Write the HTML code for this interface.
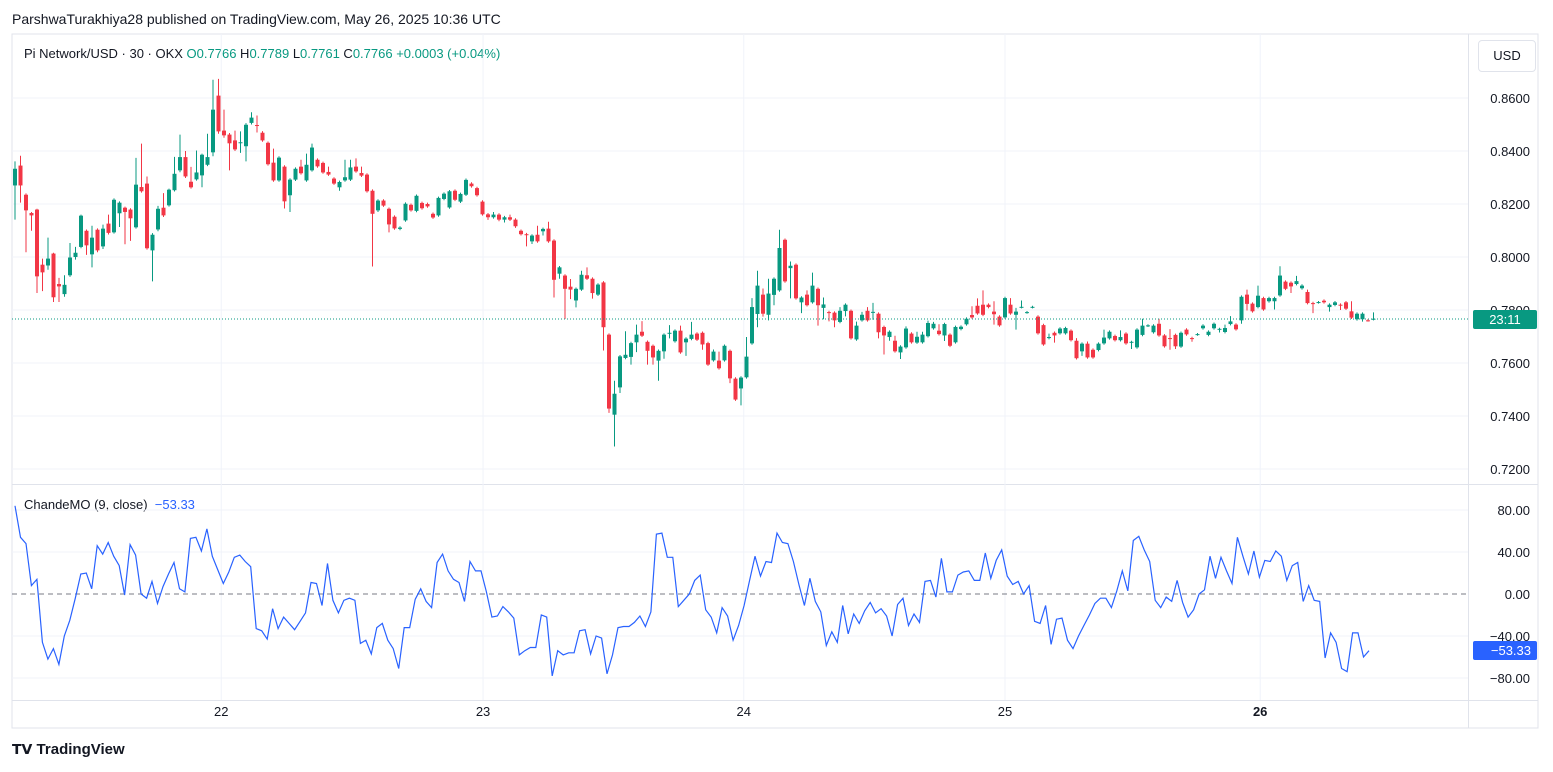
<!DOCTYPE html>
<html><head><meta charset="utf-8"><style>
body{margin:0;width:1553px;height:772px;background:#fff;font-family:"Liberation Sans",sans-serif;overflow:hidden;position:relative}
.t{position:absolute;white-space:nowrap}
</style></head><body>
<div class="t" style="left:12px;top:11px;font-size:14px;color:#131722">ParshwaTurakhiya28 published on TradingView.com, May 26, 2025 10:36 UTC</div>
<div class="t" style="left:24px;top:46px;font-size:13px;color:#131722">Pi Network/USD · 30 · OKX <span style="color:#089981">O</span><span style="color:#089981">0.7766</span> H<span style="color:#089981">0.7789</span> L<span style="color:#089981">0.7761</span> C<span style="color:#089981">0.7766</span> <span style="color:#089981">+0.0003 (+0.04%)</span></div>
<div class="t" style="left:24px;top:497px;font-size:13px;color:#131722">ChandeMO (9, close) &nbsp;<span style="color:#2962ff">−53.33</span></div>
<div class="t" style="left:1478px;top:40px;width:56px;height:30px;border:1px solid #e0e3eb;border-radius:4px;font-size:13px;line-height:30px;text-align:center;color:#131722">USD</div>
<div class="t" style="left:12px;top:741px;font-size:15px;font-weight:bold;color:#131722"><span style="font-size:14px">𝗧𝗩</span> TradingView</div>
<svg id="c" width="1553" height="772" style="position:absolute;left:0;top:0"></svg>
<script>
const candles=[
[0.8270,0.8333,0.8361,0.8141],[0.8345,0.8270,0.8382,0.8205],[0.8235,0.8176,0.8240,0.8018],[0.8166,0.8157,0.8170,0.8099],[0.8179,0.7927,0.8182,0.7864],[0.7971,0.7942,0.7994,0.7871],[0.7968,0.7994,0.8073,0.7952],[0.8013,0.7848,0.8016,0.7830],[0.7898,0.7889,0.7921,0.7830],[0.7860,0.7895,0.7931,0.7850],
[0.7931,0.7998,0.8053,0.7925],[0.8000,0.8016,0.8038,0.7990],[0.8038,0.8156,0.8160,0.8033],[0.8099,0.8044,0.8104,0.8008],[0.8010,0.8073,0.8118,0.7961],[0.8103,0.8025,0.8108,0.8018],[0.8040,0.8107,0.8122,0.8030],[0.8126,0.8091,0.8160,0.8085],[0.8093,0.8216,0.8221,0.8088],[0.8165,0.8205,0.8210,0.8113],
[0.8186,0.8170,0.8190,0.8048],[0.8179,0.8146,0.8184,0.8061],[0.8112,0.8273,0.8374,0.8107],[0.8264,0.8248,0.8428,0.8243],[0.8277,0.8033,0.8304,0.8028],[0.8025,0.8084,0.8090,0.7908],[0.8104,0.8182,0.8193,0.8097],[0.8186,0.8157,0.8241,0.8151],[0.8195,0.8254,0.8258,0.8190],[0.8252,0.8314,0.8378,0.8247],
[0.8327,0.8377,0.8462,0.8320],[0.8377,0.8304,0.8400,0.8298],[0.8284,0.8263,0.8340,0.8258],[0.8293,0.8319,0.8402,0.8288],[0.8308,0.8386,0.8390,0.8263],[0.8348,0.8377,0.8465,0.8343],[0.8395,0.8556,0.8669,0.8380],[0.8609,0.8474,0.8672,0.8465],[0.8477,0.8459,0.8556,0.8450],[0.8462,0.8429,0.8468,0.8327],
[0.8440,0.8406,0.8477,0.8400],[0.8430,0.8433,0.8474,0.8393],[0.8418,0.8499,0.8505,0.8361],[0.8506,0.8526,0.8546,0.8500],[0.8498,0.8497,0.8534,0.8470],[0.8469,0.8440,0.8475,0.8435],[0.8431,0.8350,0.8436,0.8345],[0.8356,0.8289,0.8409,0.8284],[0.8289,0.8375,0.8380,0.8284],[0.8341,0.8210,0.8346,0.8183],
[0.8233,0.8292,0.8297,0.8170],[0.8292,0.8333,0.8338,0.8287],[0.8341,0.8316,0.8367,0.8311],[0.8289,0.8348,0.8390,0.8284],[0.8327,0.8413,0.8428,0.8322],[0.8367,0.8342,0.8372,0.8337],[0.8355,0.8319,0.8360,0.8314],[0.8321,0.8311,0.8341,0.8306],[0.8296,0.8277,0.8301,0.8272],[0.8263,0.8283,0.8288,0.8250],
[0.8289,0.8301,0.8367,0.8284],[0.8292,0.8338,0.8367,0.8287],[0.8341,0.8323,0.8372,0.8318],[0.8317,0.8307,0.8341,0.8302],[0.8311,0.8248,0.8316,0.8243],[0.8250,0.8163,0.8255,0.7964],[0.8176,0.8213,0.8218,0.8170],[0.8213,0.8194,0.8218,0.8189],[0.8182,0.8123,0.8187,0.8093],[0.8152,0.8108,0.8157,0.8103],
[0.8106,0.8111,0.8116,0.8101],[0.8138,0.8201,0.8206,0.8133],[0.8197,0.8176,0.8202,0.8171],[0.8174,0.8231,0.8236,0.8169],[0.8204,0.8184,0.8209,0.8179],[0.8200,0.8191,0.8205,0.8186],[0.8163,0.8149,0.8168,0.8144],[0.8157,0.8223,0.8228,0.8152],[0.8219,0.8239,0.8244,0.8214],[0.8187,0.8248,0.8253,0.8182],
[0.8250,0.8216,0.8255,0.8211],[0.8209,0.8238,0.8243,0.8204],[0.8235,0.8291,0.8296,0.8230],[0.8277,0.8267,0.8282,0.8262],[0.8260,0.8233,0.8265,0.8228],[0.8209,0.8161,0.8214,0.8156],[0.8161,0.8150,0.8166,0.8140],[0.8150,0.8160,0.8170,0.8145],[0.8160,0.8141,0.8165,0.8135],[0.8141,0.8150,0.8155,0.8130],
[0.8150,0.8141,0.8160,0.8136],
[0.8141,0.8116,0.8146,0.8110],[0.8099,0.8086,0.8104,0.8081],[0.8086,0.8085,0.8091,0.8040],[0.8059,0.8081,0.8086,0.8049],[0.8084,0.8059,0.8118,0.8054],[0.8097,0.8106,0.8111,0.8081],[0.8107,0.8059,0.8133,0.8054],[0.8062,0.7914,0.8067,0.7847],[0.7937,0.7961,0.7966,0.7918],[0.7930,0.7880,0.7935,0.7766],
[0.7888,0.7877,0.7917,0.7841],[0.7836,0.7880,0.7885,0.7810],[0.7877,0.7933,0.7948,0.7872],[0.7931,0.7918,0.7961,0.7913],[0.7918,0.7864,0.7923,0.7843],[0.7858,0.7896,0.7901,0.7853],[0.7904,0.7735,0.7909,0.7647],[0.7707,0.7428,0.7712,0.7412],[0.7405,0.7484,0.7533,0.7285],[0.7508,0.7625,0.7630,0.7487],
[0.7619,0.7631,0.7720,0.7614],[0.7623,0.7675,0.7680,0.7594],[0.7678,0.7707,0.7745,0.7641],[0.7718,0.7703,0.7758,0.7698],[0.7680,0.7646,0.7685,0.7594],[0.7665,0.7621,0.7670,0.7594],[0.7609,0.7646,0.7651,0.7533],[0.7644,0.7707,0.7712,0.7616],[0.7713,0.7714,0.7743,0.7693],[0.7682,0.7722,0.7727,0.7677],
[0.7722,0.7640,0.7741,0.7635],[0.7678,0.7692,0.7697,0.7627],[0.7691,0.7707,0.7755,0.7686],[0.7711,0.7688,0.7716,0.7683],[0.7714,0.7670,0.7719,0.7650],[0.7675,0.7594,0.7680,0.7589],[0.7610,0.7643,0.7651,0.7605],[0.7609,0.7580,0.7643,0.7575],[0.7610,0.7665,0.7670,0.7605],[0.7646,0.7542,0.7651,0.7524],
[0.7541,0.7462,0.7546,0.7457],[0.7504,0.7545,0.7550,0.7440],[0.7546,0.7624,0.7698,0.7541],[0.7674,0.7811,0.7845,0.7669],[0.7785,0.7892,0.7948,0.7735],[0.7858,0.7786,0.7881,0.7775],[0.7782,0.7862,0.7918,0.7761],[0.7857,0.7918,0.7923,0.7818],[0.7874,0.8034,0.8103,0.7869],[0.8065,0.7908,0.8070,0.7903],
[0.7958,0.7967,0.7983,0.7844],[0.7971,0.7844,0.7976,0.7839],[0.7829,0.7847,0.7852,0.7788],[0.7858,0.7818,0.7874,0.7813],[0.7829,0.7892,0.7941,0.7824],[0.7880,0.7818,0.7885,0.7741],[0.7808,0.7821,0.7847,0.7765],[0.7792,0.7791,0.7797,0.7757],[0.7790,0.7761,0.7795,0.7735],[0.7755,0.7797,0.7811,0.7750],
[0.7796,0.7820,0.7825,0.7776],[0.7797,0.7693,0.7802,0.7688],[0.7689,0.7741,0.7756,0.7684],[0.7761,0.7782,0.7793,0.7756],[0.7797,0.7761,0.7811,0.7756],[0.7792,0.7793,0.7827,0.7763],[0.7786,0.7716,0.7791,0.7693],[0.7736,0.7704,0.7741,0.7632],[0.7698,0.7718,0.7723,0.7684],[0.7684,0.7644,0.7703,0.7639],
[0.7640,0.7662,0.7667,0.7615],[0.7659,0.7730,0.7738,0.7654],[0.7711,0.7678,0.7716,0.7673],[0.7677,0.7699,0.7718,0.7672],[0.7678,0.7707,0.7718,0.7673],[0.7701,0.7751,0.7760,0.7696],[0.7731,0.7748,0.7755,0.7726],[0.7722,0.7709,0.7746,0.7704],[0.7704,0.7747,0.7752,0.7683],[0.7707,0.7665,0.7712,0.7660],
[0.7678,0.7736,0.7741,0.7673],
[0.7728,0.7737,0.7742,0.7723],[0.7746,0.7767,0.7772,0.7741],[0.7781,0.7772,0.7814,0.7767],[0.7816,0.7787,0.7844,0.7782],[0.7820,0.7782,0.7874,0.7777],[0.7820,0.7811,0.7825,0.7806],[0.7794,0.7784,0.7833,0.7745],[0.7775,0.7742,0.7780,0.7737],[0.7772,0.7845,0.7850,0.7767],[0.7820,0.7787,0.7845,0.7782],
[0.7782,0.7794,0.7808,0.7726],[0.7811,0.7812,0.7836,0.7806],[0.7791,0.7792,0.7796,0.7786],[0.7811,0.7812,0.7816,0.7806],[0.7775,0.7712,0.7780,0.7707],[0.7743,0.7670,0.7748,0.7665],[0.7694,0.7698,0.7711,0.7689],[0.7714,0.7704,0.7719,0.7677],[0.7712,0.7730,0.7735,0.7707],[0.7712,0.7732,0.7737,0.7707],
[0.7722,0.7686,0.7727,0.7681],[0.7684,0.7618,0.7694,0.7613],[0.7644,0.7673,0.7678,0.7627],[0.7673,0.7621,0.7681,0.7616],[0.7650,0.7621,0.7655,0.7616],[0.7649,0.7673,0.7678,0.7644],[0.7674,0.7696,0.7726,0.7669],[0.7693,0.7718,0.7723,0.7688],[0.7702,0.7686,0.7707,0.7681],[0.7686,0.7698,0.7723,0.7681],
[0.7711,0.7674,0.7716,0.7669],[0.7679,0.7680,0.7684,0.7653],[0.7659,0.7726,0.7731,0.7654],[0.7706,0.7741,0.7767,0.7701],[0.7741,0.7742,0.7746,0.7736],[0.7716,0.7741,0.7746,0.7711],[0.7748,0.7704,0.7767,0.7699],[0.7704,0.7663,0.7709,0.7658],[0.7694,0.7693,0.7728,0.7650],[0.7706,0.7663,0.7711,0.7653],
[0.7662,0.7714,0.7719,0.7657],[0.7726,0.7708,0.7731,0.7703],[0.7694,0.7693,0.7699,0.7680],[0.7708,0.7709,0.7713,0.7703],[0.7731,0.7741,0.7746,0.7726],[0.7706,0.7718,0.7723,0.7701],[0.7731,0.7748,0.7753,0.7726],[0.7728,0.7729,0.7733,0.7715],[0.7717,0.7732,0.7745,0.7712],[0.7747,0.7757,0.7777,0.7742],
[0.7745,0.7727,0.7750,0.7722],[0.7761,0.7850,0.7855,0.7748],[0.7858,0.7823,0.7877,0.7798],[0.7824,0.7795,0.7829,0.7790],[0.7811,0.7854,0.7892,0.7806],[0.7845,0.7802,0.7850,0.7797],[0.7833,0.7845,0.7850,0.7828],[0.7833,0.7845,0.7850,0.7802],[0.7855,0.7930,0.7965,0.7850],[0.7907,0.7880,0.7912,0.7875],
[0.7903,0.7889,0.7908,0.7864],[0.7898,0.7909,0.7929,0.7893],[0.7882,0.7892,0.7897,0.7877],[0.7868,0.7826,0.7877,0.7821],[0.7826,0.7825,0.7831,0.7788],[0.7829,0.7830,0.7834,0.7824],[0.7835,0.7829,0.7840,0.7824],[0.7811,0.7820,0.7825,0.7794],[0.7819,0.7829,0.7834,0.7814],[0.7820,0.7819,0.7825,0.7800],
[0.7829,0.7805,0.7834,0.7800],[0.7795,0.7771,0.7833,0.7766],[0.7765,0.7786,0.7791,0.7760],[0.7765,0.7786,0.7791,0.7756],[0.7761,0.7760,0.7766,0.7756],[0.7766,0.7767,0.7791,0.7761]
];
const cmo=[84,54,48,8,14,-46,-62,-52,-67,-40,-25,-4,19,20,5,46,38,49,36,27,-1,47,37,0,-4,12,-9,7,19,30,5,2,53,54,41,62,36,23,10,21,35,37,31,26,-33,-35,-43,-14,-33,-22,-28,-34,-26,-18,11,10,-11,29,-6,-18,-6,-4,-6,-47,-44,-57,-32,-28,-44,-52,-71,-32,-32,-5,5,-7,-13,30,38,22,14,11,-7,31,22,22,2,-22,-21,-12,-17,-23,-58,-54,-51,-51,-20,-22,-78,-54,-58,-56,-56,-35,-34,-57,-40,-42,-76,-58,-32,-31,-31,-27,-21,-31,-17,57,58,35,35,-12,-6,0,13,
18,-15,-22,-37,-13,-21,-44,-30,-11,13,36,17,31,30,58,49,48,31,9,-11,15,-7,-17,-49,-36,-46,-11,-38,-19,-28,-16,-8,-18,-14,-21,-40,-10,-4,-30,-19,-27,12,13,-3,34,2,2,18,21,22,13,13,39,15,32,42,17,9,12,0,8,-26,-28,-11,-48,-24,-23,-44,-52,-40,-30,-20,-9,-4,-4,-13,3,22,3,51,55,42,31,-6,-13,-3,-7,13,-8,-22,-15,0,4,36,15,35,22,10,54,36,19,41,16,32,31,41,36,13,27,30,-7,8,-6,-7,-61,-37,-46,-71,-74,-37,-37,-60,-54];
const priceTicks=[0.86,0.84,0.82,0.80,0.78,0.76,0.74,0.72];
const cmoTicks=[80,40,0,-40,-80];
const dayLabels=["22","23","24","25","26"];
const dayCandleIdx=[37.5,85.1,132.5,180,226.4];
const lastPrice=0.7766, lastCmo=-53.33;

const NS="http://www.w3.org/2000/svg",svg=document.getElementById('c');
function el(t,a,p){const e=document.createElementNS(NS,t);for(const k in a)e.setAttribute(k,a[k]);(p||svg).appendChild(e);return e;}
const L=12,R=1468;
const px=i=>15+i*5.5;
const py=p=>98+(0.86-p)*2650;
const cy=v=>594-v*1.05;
const cx=i=>15+i*(1369-15)/(cmo.length-1);
// frame
let f=el('rect',{x:L,y:34,width:1526,height:694,fill:'none',stroke:'#e0e3eb'});


let sep=el('line',{x1:L,x2:1538,y1:484.5,y2:484.5,stroke:'#e0e3eb'});


let ax=el('line',{x1:R+.5,x2:R+.5,y1:34,y2:728,stroke:'#e0e3eb'});


el('line',{x1:L,x2:1538,y1:700.5,y2:700.5,stroke:'#e0e3eb'});
dayCandleIdx.forEach((d,k)=>{
  const x=px(d);
  const g=el('line',{x1:x,x2:x,y1:34,y2:700,stroke:'#f0f3fa'});
  
  
  const t=el('text',{x:x,y:716,'text-anchor':'middle','font-size':13,fill:'#131722','font-weight':k==4?'bold':'normal'});
  t.textContent=dayLabels[k];
  
  
});
priceTicks.forEach(p=>{
  const y=py(p);
  const g=el('line',{x1:L,x2:R,y1:y,y2:y,stroke:'#f0f3fa'});
  
  
  const t=el('text',{x:1530,y:y+5,'text-anchor':'end','font-size':13,fill:'#131722'});
  t.textContent=p.toFixed(4);
  
  
});
cmoTicks.forEach(v=>{
  const y=cy(v);
  const g=el('line',{x1:L,x2:R,y1:y,y2:y,stroke:v==0?'#787b86':'#f0f3fa','stroke-dasharray':v==0?'5,4':'none'});
  
  
  const t=el('text',{x:1530,y:y+5,'text-anchor':'end','font-size':13,fill:'#131722'});
  t.textContent=(v<0?'−':'')+Math.abs(v).toFixed(2);
  
  
});
// candles
candles.forEach((c,i)=>{
  const [o,cl,h,l]=c, up=cl>=o, col=up?'#089981':'#f23645', x=px(i);
  const w=el('line',{x1:x,x2:x,y1:py(h),y2:py(l),stroke:col,'stroke-width':1});
  
  
  const top=py(Math.max(o,cl)),bh=Math.max(1,Math.abs(py(o)-py(cl)));
  const b=el('rect',{x:x-2,y:top,width:4,height:bh,fill:col});
  
  
});
// last price line
const ly=py(lastPrice);
let lp=el('line',{x1:L,x2:R,y1:ly,y2:ly,stroke:'#089981','stroke-dasharray':'1,2'});


let lb=el('rect',{x:1473,y:ly-9,width:64,height:19,fill:'#089981',rx:2});


let lt=el('text',{x:1505,y:ly+5,'text-anchor':'middle','font-size':13,fill:'#fff'});
lt.textContent='23:11';


// cmo line
let d='';cmo.forEach((v,i)=>{d+=(i?'L':'M')+cx(i).toFixed(1)+','+cy(v).toFixed(1);});
let cl=el('path',{d:d,fill:'none',stroke:'#2962ff','stroke-width':1.2});


const cyl=cy(lastCmo);
let cb=el('rect',{x:1473,y:cyl-9,width:64,height:19,fill:'#2962ff',rx:2});


let ct=el('text',{x:1531,y:cyl+5,'text-anchor':'end','font-size':13,fill:'#fff'});
ct.textContent='−'+Math.abs(lastCmo).toFixed(2);


</script>
</body></html>
